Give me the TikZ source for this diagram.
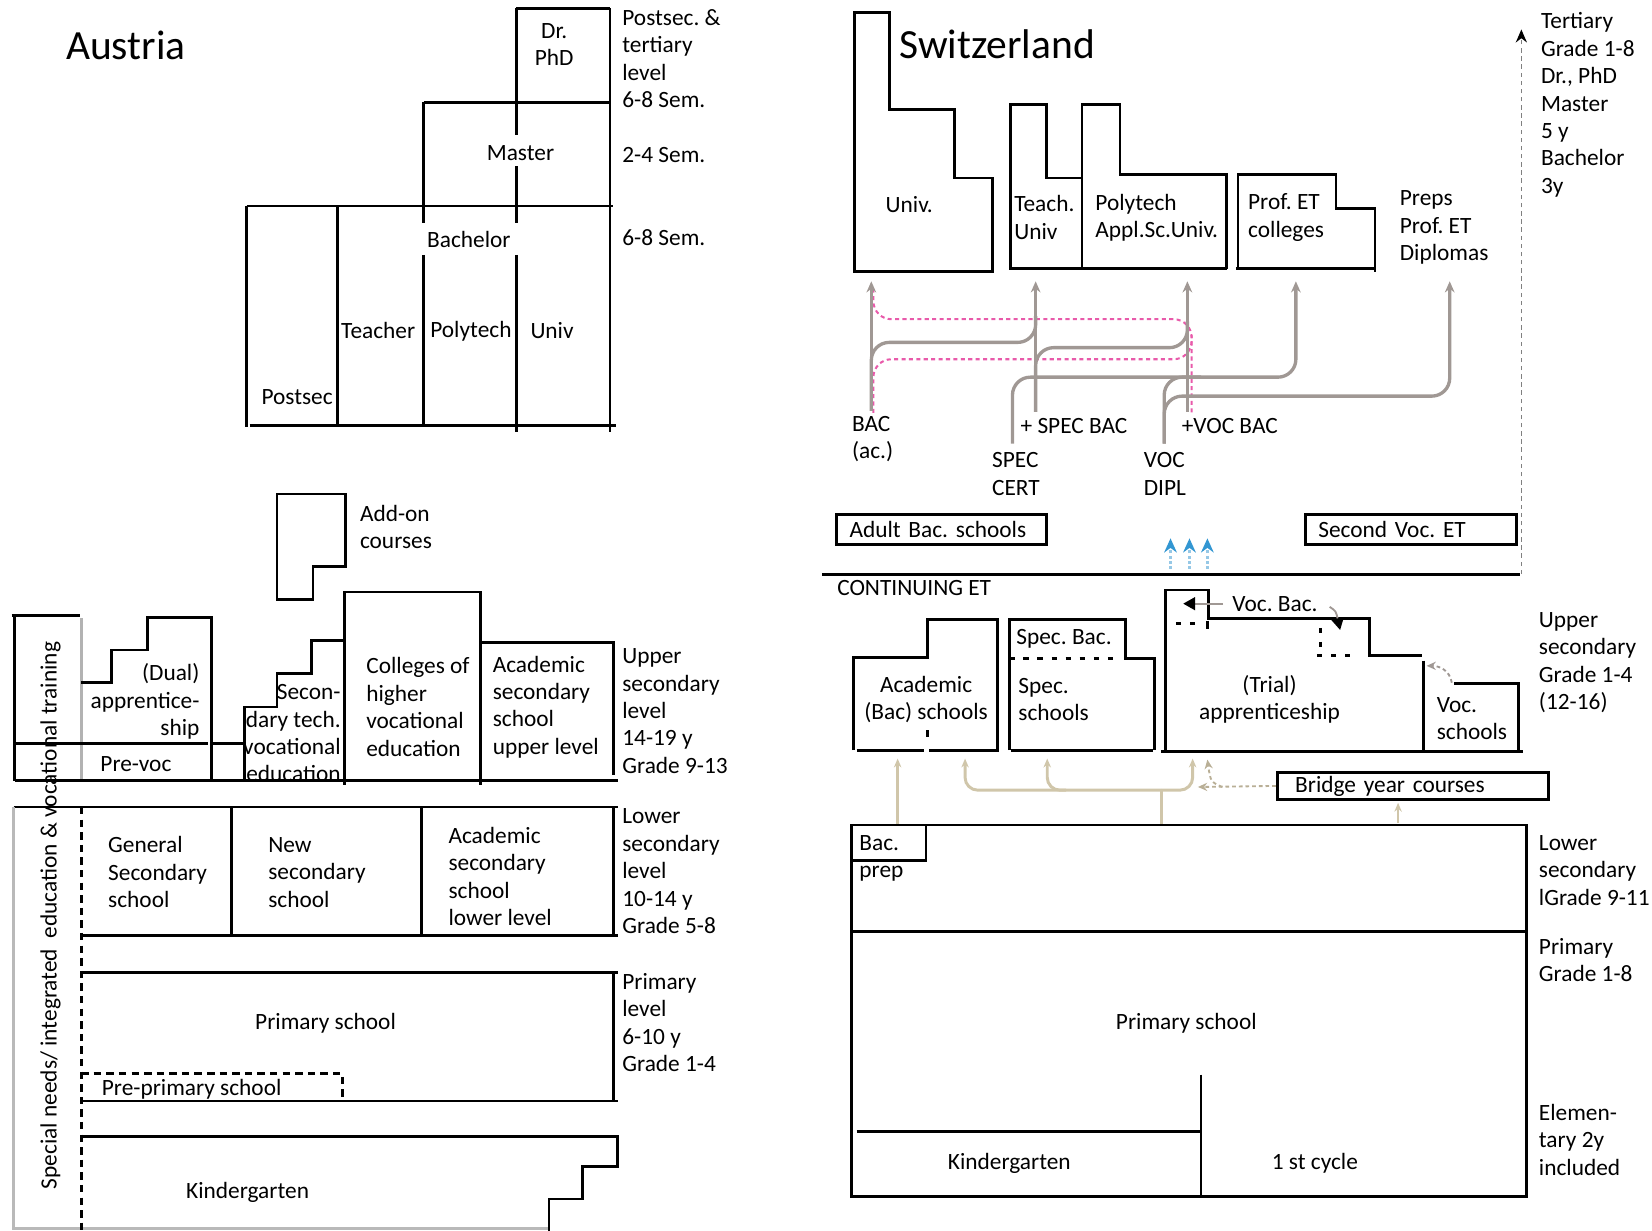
\documentclass[tikz,border=0pt]{standalone}
\usepackage{fontspec}
\setmainfont{Carlito}
\frenchspacing
\usetikzlibrary{arrows.meta}
\definecolor{cgrey}{RGB}{160,152,148}
\definecolor{cpink}{RGB}{232,90,170}
\definecolor{ctan}{RGB}{208,198,170}
\definecolor{ctand}{RGB}{185,175,150}
\definecolor{cblue}{RGB}{50,150,210}
\definecolor{cbluelt}{RGB}{150,200,230}
\begin{document}
\frenchspacing
\begin{tikzpicture}[x=0.01cm,y=-0.01cm,
  lbl/.style={inner sep=0pt, font=\fontsize{6.3}{7.4}\selectfont, align=left},
  lblc/.style={lbl, align=center},
  lblr/.style={lbl, align=right},
  ttl/.style={inner sep=0pt, font=\fontsize{11.2}{13}\selectfont},
  bx/.style={line width=0.75pt},
  dsh/.style={line width=0.75pt, dash pattern=on 2pt off 1.4pt},
  dotl/.style={line width=0.75pt, dash pattern=on 1.4pt off 2.4pt},
  gconn/.style={draw=cgrey, line width=0.9pt, rounded corners=0.17cm},
  pconn/.style={draw=cpink, line width=0.55pt, dash pattern=on 1.1pt off 0.9pt, rounded corners=0.17cm},
  tconn/.style={draw=ctan, line width=0.8pt, rounded corners=0.12cm},
  dconn/.style={draw=ctand, line width=0.5pt, dash pattern=on 1pt off 0.8pt},
  gtip/.style={-{Stealth[length=3pt,width=2.6pt]}},
  ttip/.style={-{Stealth[length=2.4pt,width=2pt]}},
  ktip/.style={-{Triangle[length=3.2pt,width=3.4pt,color=black]}},
  ltbox/.style={lbl, draw, line width=0.75pt, inner ysep=0pt},
]
\useasboundingbox (0,0) rectangle (1568,1168);

% ================= AUSTRIA =================
\node[ttl, anchor=west] (austria) at (62,43) {Austria};
% tertiary
\draw[bx] (490,8) -- (579,8);
\draw[bx] (579,8) -- (579,410);
\draw[bx] (490,8) -- (490,128) (490,158) -- (490,212) (490,242) -- (490,410);
\draw[bx] (402,97) -- (579,97);
\draw[bx] (402,97) -- (402,212) (402,242) -- (402,404);
\draw[bx] (234,195.5) -- (582,195.5);
\draw[bx] (234,195.5) -- (234,405);
\draw[bx] (320,195.5) -- (320,404);
\draw[bx] (237,404) -- (585,404);
\node[lblc] (drphd) at (526,42.5) {Dr.\\PhD};
\node[lbl] (amaster) at (494,145) {Master};
\node[lbl] (abach) at (445,227) {Bachelor};
\node[lbl] (ateach) at (359,314) {Teacher};
\node[lbl] (apoly) at (447,314) {Polytech};
\node[lbl] (auniv) at (524,314) {Univ};
\node[lbl] (apostsec) at (282,377) {Postsec};
\node[lbl, anchor=west] (lvl1) at (590,55.5) {Postsec. \&\\tertiary\\level\\6-8 Sem.};
\node[lbl, anchor=west] (lvl2) at (590,147) {2-4 Sem.};
\node[lbl, anchor=west] (lvl3) at (590,226) {6-8 Sem.};

% upper secondary
\draw[bx] (11,584) -- (76,584);
\draw[bx] (14,584) -- (14,741);
\draw[draw=gray!60, line width=0.75pt] (77,587) -- (77,741);
\draw[bx] (77,648) -- (106,648) -- (106,617) -- (140,617) -- (140,586) -- (201,586) -- (201,741);
\draw[bx] (14,706) -- (197,706);
\draw[bx] (201,706) -- (232,706);
\draw[bx] (232,741) -- (232,671) -- (263,671) -- (263,639) -- (296,639) -- (296,608) -- (327,608);
\draw[bx] (263,469) -- (328,469) -- (328,538) -- (297,538) -- (297,569) -- (263,569) -- cycle;
\draw[bx] (327,745) -- (327,562) -- (456,562) -- (456,745);
\draw[bx] (456,610) -- (582,610) -- (582,736);
\draw[bx] (14,741) -- (587,741);
\node[lbl, anchor=west] (addon) at (341,500) {Add-on\\courses};
\node[lblr, anchor=east] (dual) at (190,666) {(Dual)\\apprentice-\\ship};
\node[lbl] (prevoc) at (129,725) {Pre-voc};
\node[lblr, anchor=east] (sectech) at (324,696) {Secon-\\dary tech.\\vocational\\education};
\node[lbl, anchor=west] (colleges) at (347,671) {Colleges of\\higher\\vocational\\education};
\node[lbl, anchor=west] (acadup) at (467,671) {Academic\\secondary\\school\\upper level};
\node[lbl, anchor=west] (lvl4) at (590,675) {Upper\\secondary\\level\\14-19 y\\Grade 9-13};

% lower secondary, primary, kindergarten
\draw[bx] (13,766) -- (587,766);
\draw[draw=gray!55, line width=0.9pt] (13,766) -- (13,1166) -- (521,1166);
\draw[dsh] (77,766) -- (77,1168);
\draw[bx] (220,766) -- (220,888) (400,766) -- (400,888) (582,766) -- (582,888);
\draw[bx] (77,888) -- (587,888);
\draw[bx] (77,923) -- (587,923) (582,923) -- (582,1045) (77,1045) -- (587,1045);
\draw[dsh] (77,1019) -- (325,1019) -- (325,1045);
\draw[bx] (77,1079) -- (586,1079) -- (586,1107) -- (553,1107) -- (553,1138) -- (521,1138) -- (521,1168);
\node[lbl, anchor=west] (general) at (102,828) {General\\Secondary\\school};
\node[lbl, anchor=west] (newsec) at (254,828) {New\\secondary\\school};
\node[lbl, anchor=west] (acadlow) at (425,832) {Academic\\secondary\\school\\lower level};
\node[lbl, anchor=west] (lvl5) at (590,827) {Lower\\secondary\\level\\10-14 y\\Grade 5-8};
\node[lbl] (aprim) at (309,971) {Primary school};
\node[lbl, anchor=west] (preprim) at (96,1034) {Pre-primary school};
\node[lbl, anchor=west] (lvl6) at (590,970.5) {Primary\\level\\6-10 y\\Grade 1-4};
\node[lbl] (akinder) at (235,1132) {Kindergarten};
\node[lbl, rotate=90] (special) at (48,869) {Special needs/ integrated \ education \& vocational training};

% ================= SWITZERLAND =================
\node[ttl, anchor=west] (swiss) at (853,42) {Switzerland};
\draw[bx] (811,12) -- (844,12) -- (844,104) -- (906,104) -- (906,169) -- (942,169) -- (942,258) -- (811,258) -- cycle;
\draw[bx] (959,255) -- (959,99) -- (993,99) -- (993,169) -- (1026,169);
\draw[bx] (1027,255) -- (1027,99) -- (1063,99) -- (1063,166) -- (1164,166) -- (1164,255);
\draw[bx] (958,255) -- (1165,255);
\draw[bx] (1175,255) -- (1175,166) -- (1268,166) -- (1268,198) -- (1305,198) -- (1305,258);
\draw[bx] (1173,255) -- (1306,255);
\node[lbl, anchor=west] (suniv) at (840,194) {Univ.};
\node[lbl, anchor=west] (steach) at (962,206.5) {Teach.\\Univ};
\node[lbl, anchor=west] (spoly) at (1039,206.5) {Polytech\\Appl.Sc.Univ.};
\node[lbl, anchor=west] (sprof) at (1184,206.5) {Prof. ET\\colleges};
\node[lbl, anchor=west] (spreps) at (1328,216) {Preps\\Prof. ET\\Diplomas};
\node[lbl, anchor=west] (lvl7) at (1462,99.5) {Tertiary\\Grade 1-8\\Dr., PhD\\Master\\5 y\\Bachelor\\3y};

% pathways
\coordinate (in-univ) at (827,267);
\coordinate (in-teach) at (983,267);
\coordinate (in-poly) at (1127,267);
\coordinate (in-prof) at (1230,267);
\coordinate (in-preps) at (1376,267);
\coordinate (bac-top) at (827,390);
\coordinate (spec-top) at (983,391);
\coordinate (voc-top) at (1127,391);
\coordinate (cert-top) at (961,421);
\coordinate (dipl-top) at (1105,421);
\node[lbl, anchor=west] (bac) at (808,416.5) {BAC\\(ac.)};
\node[lbl, anchor=west] (specbac) at (968,404) {+ SPEC BAC};
\node[lbl, anchor=west] (cert) at (941,450) {SPEC\\CERT};
\node[lbl, anchor=west] (vocbac) at (1121,404) {+VOC BAC};
\node[lbl, anchor=west] (dipl) at (1085,450) {VOC\\DIPL};

\draw[pconn] (829,274) -- (829,303) -- (1131,303) -- (1131,392);
\draw[pconn] (829,392) -- (829,341) -- (1131,341) -- (1131,318);
\draw[gconn, gtip] (bac-top) -- (in-univ);
\draw[gconn, gtip] (spec-top) -- (in-teach);
\draw[gconn, gtip] (voc-top) -- (in-poly);
\draw[gconn] (bac-top) -- (827,325) -- (983,325) -- (983,300);
\draw[gconn] (spec-top) -- (983,330) -- (1127,330) -- (1127,305);
\draw[gconn, gtip] (cert-top) -- (961,358) -- (1230,358) -- (in-prof);
\draw[gconn] (dipl-top) -- (1105,358) -- (1140,358);
\draw[gconn, gtip] (dipl-top) -- (1105,376) -- (1376,376) -- (in-preps);

\node[ltbox, anchor=west, text width=1.75cm, inner xsep=0.12cm, minimum height=0.29cm] (adult) at (793,502.5) {Adult Bac. schools};
\node[ltbox, anchor=west, text width=1.76cm, inner xsep=0.12cm, minimum height=0.29cm] (secvoc) at (1238,502.5) {Second Voc. ET};

\foreach \i/\xx in {1/1111,2/1129,3/1146}{
  \coordinate (bb\i) at (\xx,540);
  \coordinate (bt\i) at (\xx,511);
  \draw[draw=cbluelt, line width=0.7pt, dash pattern=on 0.8pt off 0.6pt, -{Stealth[length=3.8pt,width=3.4pt,color=cblue]}] (bb\i) -- (bt\i);
}

\draw[bx] (780,545) -- (1443,545);
\coordinate (ter-bot) at (1444,545);
\coordinate (ter-top) at (1444,28);
\draw[gray, line width=0.4pt, dash pattern=on 1.2pt off 1pt, -{Stealth[length=3.5pt,width=3pt,color=black]}] (ter-bot) -- (ter-top);
\node[lbl, anchor=west] (cont) at (794,558) {CONTINUING ET};

% upper secondary (CH)
\draw[bx] (810,712) -- (810,624) -- (880,624) -- (880,588) -- (947,588) -- (947,712);
\draw[bx] (813,712) -- (877,712) (882,712) -- (948,712);
\draw[bx] (880,693) -- (880,700);
\draw[bx] (958,712) -- (958,588) -- (1068,588) -- (1068,625) -- (1096,625) -- (1096,712);
\draw[dotl] (958,625) -- (1056,625);
\draw[bx] (960,712) -- (1094,712);
\draw[bx] (1106,713) -- (1106,560) -- (1147,560) -- (1147,587) -- (1300,587) -- (1300,622) -- (1350,622);
\draw[bx] (1351,627) -- (1351,713);
\draw[bx] (1380,649) -- (1441,649) -- (1441,713);
\draw[bx] (1102,713) -- (1446,713);
\draw[dotl] (1116,592) -- (1142,592);
\draw[bx] (1146,589) -- (1146,597);
\draw[dotl] (1253,596) -- (1253,618);
\draw[dotl] (1250,622) -- (1290,622);
\node[lblc] (acadbac) at (879,664) {Academic\\(Bac) schools};
\node[lbl, anchor=west] (specbac2) at (964,606) {Spec. Bac.};
\node[lbl, anchor=west] (specs) at (966,664) {Spec.\\schools};
\node[lblc] (trial) at (1205,664) {(Trial)\\apprenticeship};
\node[lbl, anchor=west] (vocbac2) at (1169,573) {Voc. Bac.};
\node[lbl, anchor=west] (vocs) at (1363,682) {Voc.\\schools};
\node[lbl, anchor=west] (lvl8) at (1460,629) {Upper\\secondary\\Grade 1-4\\(12-16)};
\coordinate (vbtip) at (1123,573);
\coordinate (vbtip2) at (1272,598);
\coordinate (vsin) at (1354,632);
\draw[cgrey, line width=0.6pt, ktip] ([xshift=-0.08cm]vocbac2.west) -- (vbtip);
\draw[cgrey, line width=0.5pt, ktip] (1262,576) .. controls (1268,580) .. (vbtip2);
\draw[cgrey, line width=0.5pt, dash pattern=on 1pt off 0.8pt, -{Stealth[length=2.5pt,width=2.2pt]}] (1378,648) .. controls (1376,636) and (1366,632) .. (vsin);

\node[ltbox, anchor=west, text width=2.23cm, inner xsep=0.17cm, minimum height=0.26cm] (bridge) at (1211,746) {Bridge year courses};

% tan arrows
\coordinate (tj) at (1102,750);
\coordinate (brtip) at (1137,747);
\draw[tconn, ttip] (852,783) -- (852,720);
\draw[tconn] (1102,783) -- (tj);
\draw[tconn, ttip] (tj) -- (916,750) -- (916,720);
\draw[tconn, ttip] (tj) -- (1132,750) -- (1132,720);
\draw[tconn, ttip] (1012,750) -- (994,750) -- (994,720);
\draw[dconn, -{Stealth[length=2.5pt,width=2.2pt]}] (bridge.west) -- (brtip);
\draw[dconn, -{Stealth[length=2.5pt,width=2.2pt]}] (1160,747) .. controls (1149,742) .. (1146,721);
\draw[tconn, line width=0.5pt, ttip] (1327,781) -- (1327,762);

% lower secondary, primary (CH)
\draw[bx] (808,783) rectangle (1449,1136);
\draw[bx] (808,884) -- (1449,884);
\draw[bx] (808,817) -- (879,817) -- (879,783);
\draw[bx] (1140,1020) -- (1140,1136);
\draw[bx] (813,1074) -- (1140,1074);
\node[lbl, anchor=west] (bacprep) at (815,815) {Bac.\\prep};
\node[lbl] (sprim) at (1126,971) {Primary school};
\node[lbl] (skinder) at (958,1104) {Kindergarten};
\node[lbl] (cycle) at (1248,1104) {1 st cycle};
\node[lbl, anchor=west] (lvl9) at (1460,826) {Lower\\secondary\\lGrade 9-11};
\node[lbl, anchor=west] (lvl10) at (1460,911.5) {Primary\\Grade 1-8};
\node[lbl, anchor=west] (lvl11) at (1460,1082) {Elemen-\\tary 2y\\included};
\end{tikzpicture}
\end{document}
